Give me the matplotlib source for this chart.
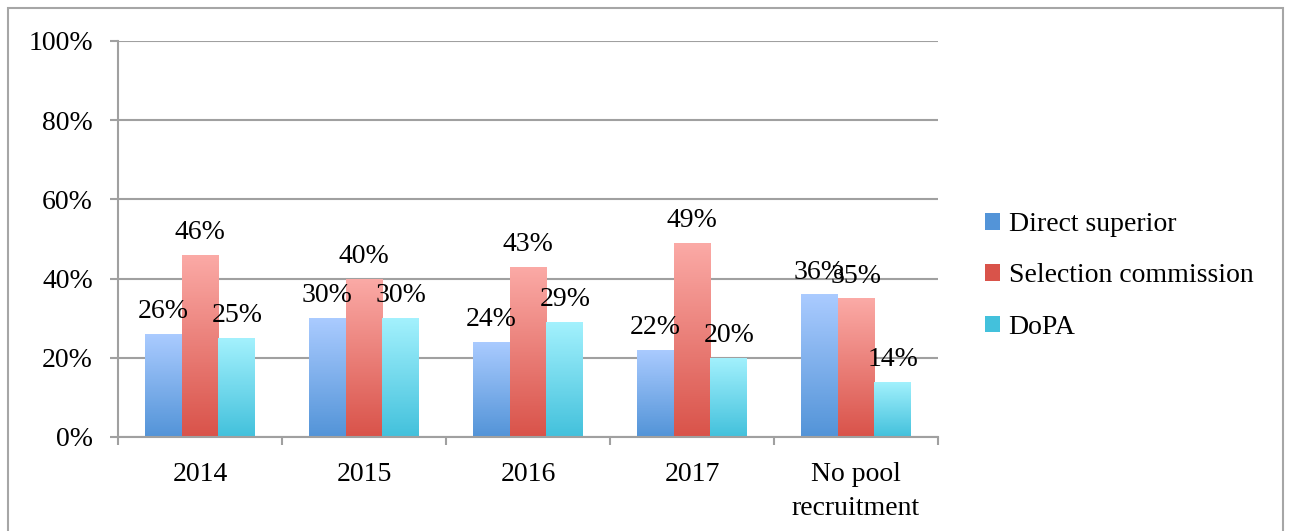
import matplotlib.pyplot as plt
import matplotlib.patches as mpatches
from matplotlib.colors import LinearSegmentedColormap
import numpy as np

categories = ['2014', '2015', '2016', '2017', 'No pool\nrecruitment']
series = ['Direct superior', 'Selection commission', 'DoPA']
direct = [26, 30, 24, 22, 36]
selection = [46, 40, 43, 49, 35]
dopa = [25, 30, 29, 20, 14]
yticks = [0, 20, 40, 60, 80, 100]

# top / bottom colours of each gradient
grads = [('#aacbff', '#5394d8'), ('#fbaaa6', '#d9534a'), ('#a3f1fd', '#43c1dc')]

plt.rcParams['font.family'] = ['Liberation Serif', 'DejaVu Serif']
plt.rcParams['font.size'] = 20

fig = plt.figure(figsize=(12.9, 5.31), dpi=100)
ax = fig.add_axes([118 / 1290, 94 / 531, 820 / 1290, 396 / 531])

# outer frame
fig.patches.append(mpatches.Rectangle((8 / 1290, -0.1), 1275 / 1290, 1.1 - 8 / 531,
                                      transform=fig.transFigure, fill=False,
                                      edgecolor='#a6a6a6', linewidth=1.5))

x = np.arange(len(categories))
w = 0.225
for k, vals in enumerate([direct, selection, dopa]):
    top, bot = grads[k]
    cmap = LinearSegmentedColormap.from_list('g%d' % k, [bot, top])
    bars = ax.bar(x + (k - 1) * w, vals, width=w, color=top, label=series[k], zorder=2)
    for b, v in zip(bars, vals):
        b.set_facecolor('none')
        b.set_edgecolor('none')
        im = ax.imshow(np.linspace(0, 1, 100).reshape(-1, 1), cmap=cmap, aspect='auto',
                       origin='lower', extent=[b.get_x(), b.get_x() + w, 0, v], zorder=2)
        im.set_clip_path(b)
        ax.annotate('%d%%' % v, (b.get_x() + w / 2, v), xytext=(0, 7),
                    textcoords='offset points', ha='center', va='bottom', zorder=3)

ax.set_xlim(-0.5, len(categories) - 0.5)
ax.set_ylim(0, 100)
ax.set_yticks(yticks)
ax.set_yticklabels(['%d%%' % t for t in yticks])
ax.set_xticks(x)
ax.set_xticklabels(categories, linespacing=1.45)
ax.set_xticks(np.arange(len(categories) + 1) - 0.5, minor=True)
ax.tick_params(axis='x', which='major', length=0, pad=18)
ax.tick_params(axis='x', which='minor', length=6, color='#a0a0a0', width=1.5)
ax.tick_params(axis='y', length=6, color='#a0a0a0', width=1.5, pad=12)
ax.yaxis.grid(True, color='#a0a0a0', linewidth=1.5, zorder=0)
ax.set_axisbelow(True)
for s in ['top', 'right']:
    ax.spines[s].set_visible(False)
for s in ['left', 'bottom']:
    ax.spines[s].set_color('#a0a0a0')
    ax.spines[s].set_linewidth(1.5)

handles = [mpatches.Patch(facecolor=grads[k][1], edgecolor='none') for k in range(3)]
fig.legend(handles, series, loc='center left', bbox_to_anchor=(960 / 1290, 255 / 531),
           frameon=False, handlelength=0.55, handleheight=0.55, handletextpad=0.3,
           labelspacing=0.95)

fig.savefig('out.png', dpi=100)
